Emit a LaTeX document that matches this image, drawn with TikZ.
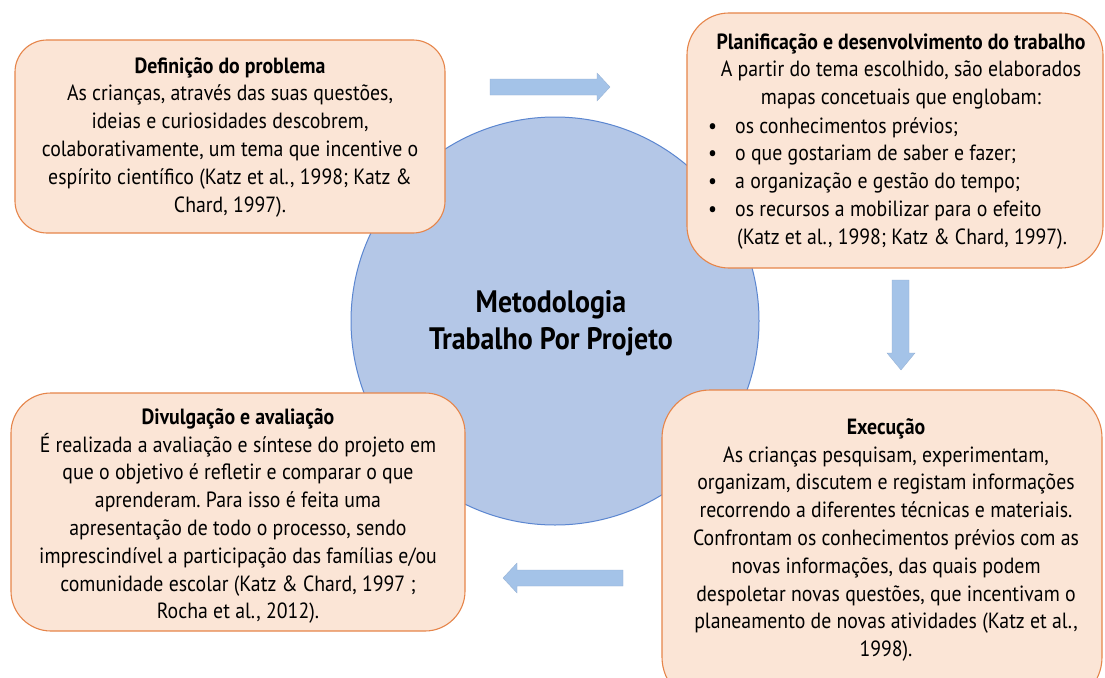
\documentclass[tikz,border=0pt]{standalone}
\usepackage{fontspec}
\setmainfont{PT Sans}[FakeStretch=0.9]
\definecolor{boxfill}{HTML}{FBE5D6}
\definecolor{boxline}{HTML}{E6854A}
\definecolor{circfill}{HTML}{B4C7E7}
\definecolor{circline}{HTML}{5B86D0}
\definecolor{arrfill}{HTML}{A4C3E8}
\frenchspacing
\begin{document}
\begin{tikzpicture}[x=1pt,y=-1pt,
  stagebox/.style={draw=boxline, fill=boxfill, line width=1.1pt, inner sep=0pt},
  boxtext/.style={font=\fontsize{22}{27.8}\selectfont, align=center, inner sep=0pt},
  listtext/.style={font=\fontsize{22}{27.8}\selectfont, align=left, inner sep=0pt},
  titletext/.style={font=\fontsize{31}{37}\selectfont\bfseries, align=center, inner sep=0pt},
  blockarrow/.style={fill=arrfill, draw=arrfill!90!black, line width=0.3pt}
]
\clip (0,0) rectangle (1105,677);
\fill[white] (0,0) rectangle (1105,677);

% central circle
\node[circle, draw=circline, fill=circfill, line width=1pt, minimum size=408pt, inner sep=0pt] (hub) at (555,321) {};
\node[titletext] (title) at (551,323) {Metodologia\\Trabalho Por Projeto};

% boxes
\draw[stagebox, rounded corners=32pt] (15,40) rectangle (445,233);
\draw[stagebox, rounded corners=42pt] (687,13) rectangle (1103,268);
\draw[stagebox, rounded corners=40pt] (11,393) rectangle (465,631);
\draw[stagebox, rounded corners=48pt] (662,390) rectangle (1102,705);

% texts
\node[boxtext] (t1) at (230,137) {\textbf{Definição do problema}\\
As crianças, através das suas questões,\\
ideias e curiosidades descobrem,\\
colaborativamente, um tema que incentive o\\
espírito científico (Katz et al., 1998; Katz \&\\
Chard, 1997).};

\node[boxtext, anchor=north] (t2a) at (901,33) {\textbf{Planificação e desenvolvimento do trabalho}\\
A partir do tema escolhido, são elaborados\\
mapas concetuais que englobam:};
\node[listtext, anchor=north west] (t2b) at (708,117) {\makebox[27pt][l]{\textbullet}os conhecimentos prévios;\\
\makebox[27pt][l]{\textbullet}o que gostariam de saber e fazer;\\
\makebox[27pt][l]{\textbullet}a organização e gestão do tempo;\\
\makebox[27pt][l]{\textbullet}os recursos a mobilizar para o efeito\\
\hspace*{29pt}(Katz et al., 1998; Katz \& Chard, 1997).};

\node[boxtext] (t3) at (238,516) {\textbf{Divulgação e avaliação}\\
É realizada a avaliação e síntese do projeto em\\
que o objetivo é refletir e comparar o que\\
aprenderam. Para isso é feita uma\\
apresentação de todo o processo, sendo\\
imprescindível a participação das famílias e/ou\\
comunidade escolar (Katz \& Chard, 1997 ;\\
Rocha et al., 2012).};

\node[boxtext] (t4) at (886,540) {\textbf{Execução}\\
As crianças pesquisam, experimentam,\\
organizam, discutem e registam informações\\
recorrendo a diferentes técnicas e materiais.\\
Confrontam os conhecimentos prévios com as\\
novas informações, das quais podem\\
despoletar novas questões, que incentivam o\\
planeamento de novas atividades (Katz et al.,\\
1998).};

% block arrows
\draw[blockarrow] (490,79) -- (597,79) -- (597,73) -- (610,87) -- (597,101) -- (597,95) -- (490,95) -- cycle;
\draw[blockarrow] (892,280) -- (909,280) -- (909,353) -- (915,353) -- (901,370) -- (887,353) -- (892,353) -- cycle;
\draw[blockarrow] (623,570) -- (517,570) -- (517,563) -- (503,578) -- (517,593) -- (517,586) -- (623,586) -- cycle;
\end{tikzpicture}
\end{document}
